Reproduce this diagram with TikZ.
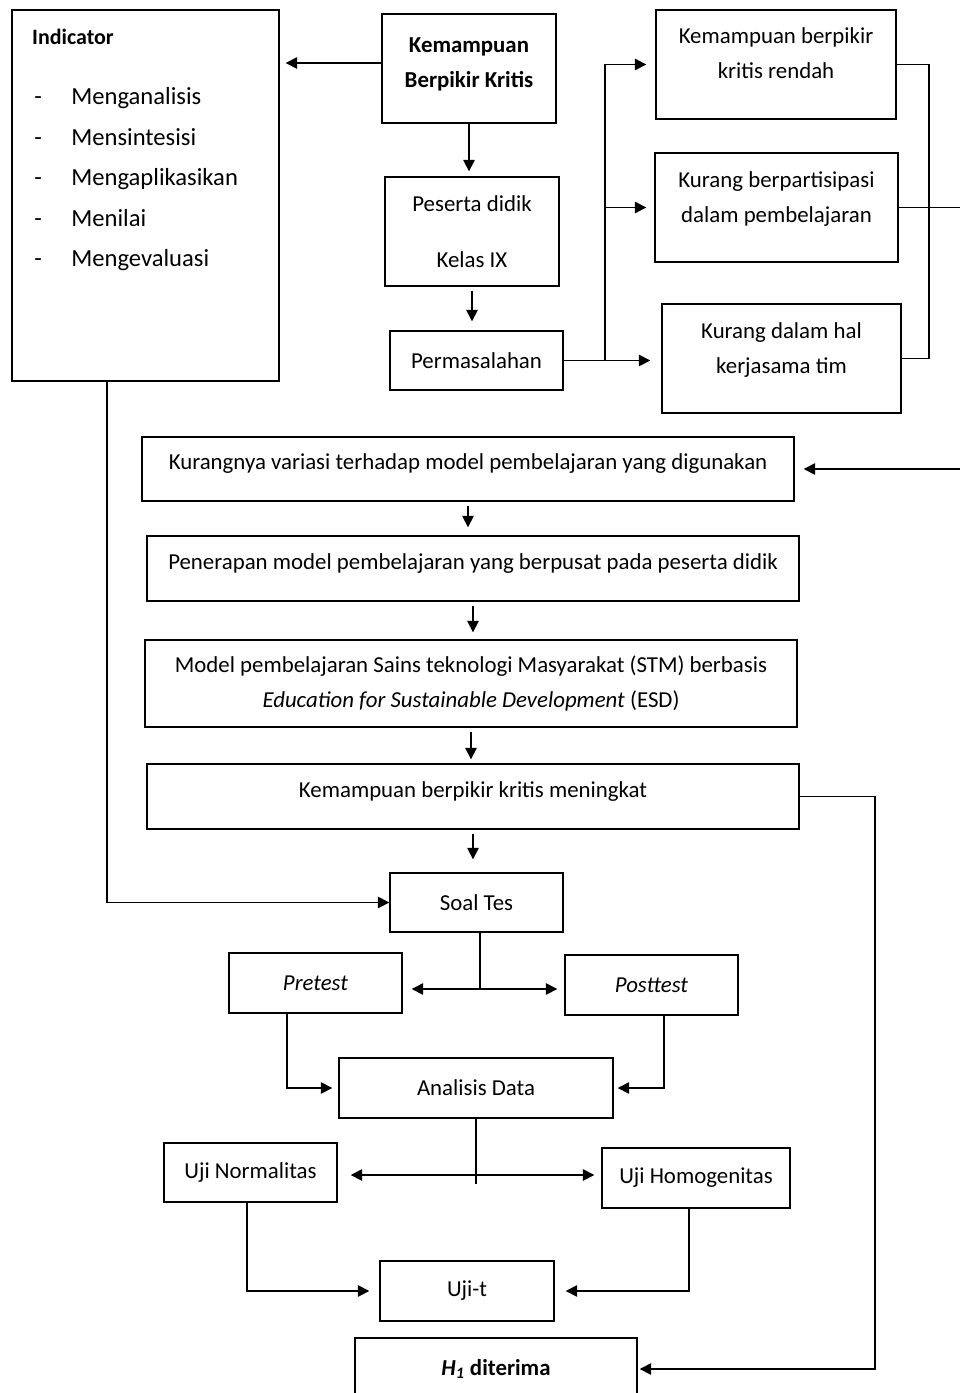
\documentclass[tikz,border=0pt]{standalone}
\usepackage{fontspec}
\setmainfont{Carlito}
\usetikzlibrary{arrows.meta}

\tikzset{
  box/.style={draw, line width=0.8pt, inner sep=0pt, align=center,
              font=\fontsize{13}{20}\selectfont},
  sz/.style 2 args={minimum width=#1*0.02cm, minimum height=#2*0.02cm},
  lift/.style={text depth=#1},
  arr/.style={-{Triangle[length=6.5pt,width=6.5pt]}, line width=0.9pt},
  ln/.style={line width=0.9pt}
}

\begin{document}
\begin{tikzpicture}[x=0.02cm, y=-0.02cm]
        \clip (0,0) rectangle (960,1393);
        % indicator box
        \node[box, sz={267}{371}] (ind) at (145.5,195.5) {};
        \node[anchor=west, font=\fontsize{12.5}{15}\selectfont\bfseries] (indt) at (26,37) {Indicator};
        \foreach \w [count=\i] in {Menganalisis,Mensintesisi,Mengaplikasikan,Menilai,Mengevaluasi} {
          \node[anchor=base west, inner sep=0pt, font=\fontsize{14}{17}\selectfont] (dash\i) at (34,64+40.5*\i) {-};
          \node[anchor=base west, inner sep=0pt, font=\fontsize{14}{17}\selectfont] (it\i) at (71,64+40.5*\i) {\w};
        }
        % top column
        \node[box, sz={174}{109}, lift=7pt, font=\fontsize{13}{20}\selectfont\bfseries] (kbk) at (469,68.5) {Kemampuan\\Berpikir Kritis};
        \node[box, sz={174}{109}] (pd) at (472,231.5) {Peserta didik\\[12pt]Kelas IX};
        \node[box, sz={173}{59}] (perm) at (476.5,360.5) {Permasalahan};
        % problems
        \node[box, sz={240}{109}, lift=13pt] (kbr) at (776,64.5) {Kemampuan berpikir\\kritis rendah};
        \node[box, sz={243}{109}, lift=12pt] (kbp) at (776.5,207.5) {Kurang berpartisipasi\\dalam pembelajaran};
        \node[box, sz={239}{109}, lift=12pt] (kdh) at (781.5,358.5) {Kurang dalam hal\\kerjasama tim};
        % wide boxes
        \node[box, sz={652}{64}, lift=8pt] (var) at (468,469) {Kurangnya variasi terhadap model pembelajaran yang digunakan};
        \node[box, sz={652}{65}, lift=8pt] (pen) at (473,568.5) {Penerapan model pembelajaran yang berpusat pada peserta didik};
        \node[box, sz={652}{87}] (model) at (471,683.5) {Model pembelajaran Sains teknologi Masyarakat (STM) berbasis\\\textit{Education for Sustainable Development} (ESD)};
        \node[box, sz={652}{65}, lift=8pt] (kbm) at (473,796.5) {Kemampuan berpikir kritis meningkat};
        % test part
        \node[box, sz={173}{59}] (soal) at (476.5,902.5) {Soal Tes};
        \node[box, sz={173}{60}] (pre) at (315.5,983) {\textit{Pretest}};
        \node[box, sz={173}{60}] (post) at (651.5,985) {\textit{Posttest}};
        \node[box, sz={274}{60}] (ana) at (476,1088) {Analisis Data};
        \node[box, sz={173}{59}] (norm) at (250.5,1172.5) {Uji Normalitas};
        \node[box, sz={188}{60}] (homo) at (696,1178) {Uji Homogenitas};
        \node[box, sz={174}{60}] (ujit) at (467,1291) {Uji-t};
        \node[box, sz={282}{62}, font=\fontsize{13}{20}\selectfont\bfseries] (h1) at (496,1369) {\textit{H}\textsubscript{\textit{1}} diterima};
        % connectors top
        \draw[arr, shorten >=6*0.02cm] (kbk.west |- 0,63) -- (ind.east |- 0,63);
        \draw[arr, shorten >=5*0.02cm] (kbk.south) -- (kbk.south |- pd.north);
        \draw[arr, shorten <=4*0.02cm, shorten >=9*0.02cm] (pd.south) -- (pd.south |- perm.north);
        \coordinate (split) at (605,360.5);
        \draw[arr, shorten >=9*0.02cm] (perm.east) -- (split) |- (kbr.west);
        \draw[arr, shorten >=8*0.02cm] (split) |- (kbp.west);
        \draw[arr, shorten >=11*0.02cm] (perm.east) -- (kdh.west |- perm.east);
        \draw[ln] (kbr.east) -- ++(32,0) |- (kdh.east);
        \draw[arr, shorten >=9*0.02cm] (kbp.east) -- (980,207.5) |- (var.east);
        % connectors middle
        \draw[arr, shorten <=4*0.02cm, shorten >=8*0.02cm] (var.south) -- (var.south |- pen.north);
        \draw[arr, shorten <=4*0.02cm, shorten >=7*0.02cm] (pen.south) -- (pen.south |- model.north);
        \draw[arr, shorten <=4*0.02cm, shorten >=4*0.02cm] (model.south) -- (model.south |- kbm.north);
        \draw[arr, shorten <=4*0.02cm, shorten >=13*0.02cm] (kbm.south) -- (kbm.south |- soal.north);
        \draw[arr, shorten >=2*0.02cm] (kbm.east) -- (875,796.5) |- (h1.east);
        \draw[arr] (ind.south -| 107,0) |- (soal.west);
        % connectors bottom
        \coordinate (fork1) at (480,989);
        \draw[ln] (soal.south -| fork1) -- (fork1);
        \draw[arr, shorten >=9*0.02cm] (fork1) -- (pre.east |- fork1);
        \draw[arr, shorten >=7*0.02cm] (fork1) -- (post.west |- fork1);
        \draw[arr, shorten >=6*0.02cm] (pre.south -| 287,0) |- (ana.west);
        \draw[arr, shorten >=4*0.02cm] (post.south -| 664,0) |- (ana.east);
        \coordinate (fork2) at (475,1175);
        \draw[ln] (ana.south) -- ++(0,65);
        \draw[arr, shorten >=13*0.02cm] (fork2) -- (norm.east |- fork2);
        \draw[arr, shorten >=7*0.02cm] (fork2) -- (homo.west |- fork2);
        \draw[arr, shorten >=10*0.02cm] (norm.south -| 247,0) |- (ujit.west);
        \draw[arr, shorten >=11*0.02cm] (homo.south -| 689,0) |- (ujit.east);
\end{tikzpicture}
\end{document}
